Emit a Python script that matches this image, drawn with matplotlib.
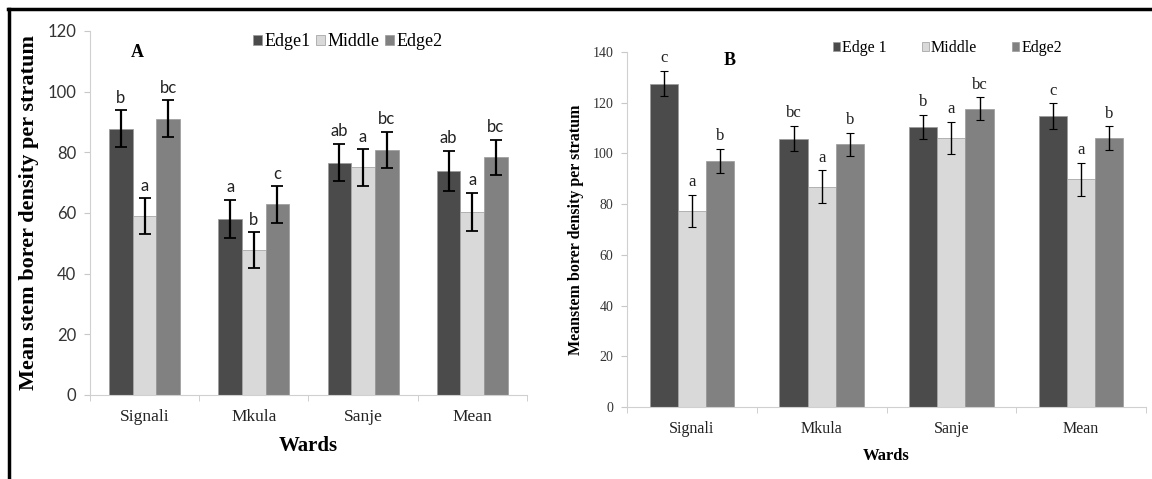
import matplotlib
matplotlib.use("Agg")
import matplotlib.pyplot as plt
import numpy as np

# data
wards = ["Signali", "Mkula", "Sanje", "Mean"]

a_edge1 = [87.8, 58.0, 76.6, 73.9]
a_middle = [59.0, 47.8, 75.0, 60.4]
a_edge2 = [91.1, 62.8, 80.8, 78.3]
a_err_edge1 = [6.1, 6.3, 6.2, 6.6]
a_err_middle = [5.8, 5.9, 6.0, 6.2]
a_err_edge2 = [6.0, 6.0, 6.0, 5.9]
a_letters_edge1 = ["b", "a", "ab", "ab"]
a_letters_middle = ["a", "b", "a", "a"]
a_letters_edge2 = ["bc", "c", "bc", "bc"]

b_edge1 = [127.5, 105.8, 110.5, 114.8]
b_middle = [77.3, 86.9, 106.1, 89.9]
b_edge2 = [97.0, 103.6, 117.7, 106.0]
b_err_edge1 = [5.0, 5.0, 4.8, 5.0]
b_err_middle = [6.3, 6.5, 6.3, 6.5]
b_err_edge2 = [4.9, 4.5, 4.4, 4.7]
b_letters_edge1 = ["c", "bc", "b", "c"]
b_letters_middle = ["a", "a", "a", "a"]
b_letters_edge2 = ["b", "b", "bc", "b"]

colors = ["#4b4b4b", "#d9d9d9", "#818181"]
serif = "Liberation Serif"
sans = "Lato"

fig = plt.figure(figsize=(11.52, 4.79), dpi=100)

# outer frame (top and left)
fig.add_artist(plt.Line2D([0.007, 1.0], [0.981, 0.981], color="black", lw=2.5))
fig.add_artist(plt.Line2D([0.0075, 0.0075], [0.0, 0.981], color="black", lw=2.5))


def panel(ax, series, errs, letters, names, ymax, tickfont, tickfs, xtickfs,
          letfont, letfs, elw, capsize, letter_off):
    x = np.arange(len(wards))
    w = 0.65 / 3
    for i, (vals, err, labs, name) in enumerate(zip(series, errs, letters, names)):
        pos = x + (i - 1) * w
        ax.bar(pos, vals, w, color=colors[i], edgecolor="#9a9a9a", linewidth=0.5,
               label=name, zorder=2)
        ax.errorbar(pos, vals, yerr=err, fmt="none", ecolor="black", elinewidth=elw,
                    capsize=capsize, capthick=elw * 0.8, zorder=3)
        for p, v, e, t in zip(pos, vals, err, labs):
            ax.text(p, v + e + letter_off, t, ha="center", va="bottom",
                    family=letfont, fontsize=letfs, color="#222222")
    ax.set_xlim(-0.5, len(wards) - 0.5)
    ax.set_ylim(0, ymax)
    for s in ["top", "right"]:
        ax.spines[s].set_visible(False)
    ax.spines["left"].set_color("#d0d0d0")
    ax.spines["bottom"].set_color("#d0d0d0")
    ax.set_xticks(x)
    ax.set_xticklabels(wards, family=serif, fontsize=xtickfs, color="#222222")
    ax.set_xticks(np.arange(-0.5, len(wards)), minor=True)
    ax.tick_params(axis="x", which="major", length=0, pad=10)
    ax.tick_params(axis="x", which="minor", length=4, color="#c8c8c8", direction="out")
    ax.tick_params(axis="y", length=4, color="#c8c8c8", pad=6)
    ax.set_yticks(np.arange(0, ymax + 1, 20))
    for t in ax.get_yticklabels():
        t.set_family(tickfont)
        t.set_fontsize(tickfs)
        t.set_color("#333333")


axA = fig.add_axes([0.0781, 0.1754, 0.3793, 0.760])
panel(axA, [a_edge1, a_middle, a_edge2], [a_err_edge1, a_err_middle, a_err_edge2],
      [a_letters_edge1, a_letters_middle, a_letters_edge2], ["Edge1", "Middle", "Edge2"],
      120, sans, 12, 12.5, sans, 12, 1.6, 4, 1.5)
axA.set_ylabel("Mean stem borer density per stratum", family=serif, fontweight="bold",
               fontsize=16, labelpad=6)
axA.set_xlabel("Wards", family=serif, fontweight="bold", fontsize=15, labelpad=8)
axA.text(0.108, 0.942, "A", transform=axA.transAxes, family=serif, fontweight="bold",
         fontsize=13, ha="center", va="center")
axA.legend(loc="center", bbox_to_anchor=(0.59, 0.97), ncol=3, frameon=False,
           prop={"family": serif, "size": 13}, handlelength=0.5, handleheight=0.5,
           handletextpad=0.12, columnspacing=0.3, borderpad=0)

axB = fig.add_axes([0.5443, 0.1503, 0.4505, 0.7411])
panel(axB, [b_edge1, b_middle, b_edge2], [b_err_edge1, b_err_middle, b_err_edge2],
      [b_letters_edge1, b_letters_middle, b_letters_edge2], ["Edge 1", "Middle", "Edge2"],
      140, serif, 10, 11.5, serif, 12, 1.0, 3, 1.8)
axB.set_ylabel("Meanstem borer density per stratum", family=serif, fontweight="bold",
               fontsize=11.5, labelpad=6)
axB.set_xlabel("Wards", family=serif, fontweight="bold", fontsize=12, labelpad=8)
axB.text(0.198, 0.977, "B", transform=axB.transAxes, family=serif, fontweight="bold",
         fontsize=13, ha="center", va="center")
axB.legend(loc="center", bbox_to_anchor=(0.617, 1.011), ncol=3, frameon=False,
           prop={"family": serif, "size": 11.5}, handlelength=0.45, handleheight=0.45,
           handletextpad=0.12, columnspacing=2.2, borderpad=0)

fig.savefig("out.png", dpi=100, facecolor="white")
